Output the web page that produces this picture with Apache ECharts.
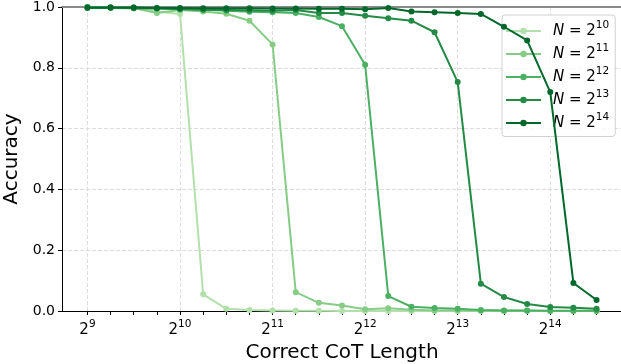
<!DOCTYPE html>
<html>
<head>
<meta charset="utf-8">
<script src="https://cdn.jsdelivr.net/npm/echarts@6/dist/echarts.min.js"></script>
<style>
  html, body { margin: 0; padding: 0; background: #fff; }
  #chart { width: 621px; height: 364px; }
</style>
</head>
<body>
<div id="chart"></div>
<script>
// log2 of the CoT length at each measured point
const lengthExps = [9, 9.25, 9.5, 9.75, 10, 10.25, 10.5, 10.75, 11, 11.25, 11.5, 11.75,
  12, 12.25, 12.5, 12.75, 13, 13.25, 13.5, 13.75, 14, 14.25, 14.5];
const majorExps = [9, 10, 11, 12, 13, 14];
const yTicks = [0, 0.2, 0.4, 0.6, 0.8, 1.0];
const nExps = [10, 11, 12, 13, 14];

const acc10 = [1.0, 0.998, 0.996, 0.985, 0.977, 0.055, 0.007, 0.003, 0.002, 0.001, 0.001, 0.0,
  0.0, 0.0, 0.0, 0.0, 0.0, 0.0, 0.0, 0.0, 0.0, 0.0, 0.0];
const acc11 = [1.0, 0.998, 0.997, 0.98, 0.99, 0.985, 0.978, 0.955, 0.877, 0.062, 0.027, 0.018,
  0.006, 0.009, 0.004, 0.002, 0.002, 0.001, 0.001, 0.001, 0.0, 0.0, 0.0];
const acc12 = [1.0, 0.999, 0.998, 0.996, 0.995, 0.992, 0.988, 0.984, 0.983, 0.98, 0.967, 0.937,
  0.81, 0.049, 0.014, 0.01, 0.007, 0.003, 0.002, 0.002, 0.001, 0.001, 0.001];
const acc13 = [0.997, 0.997, 0.996, 0.995, 0.993, 0.991, 0.99, 0.989, 0.988, 0.99, 0.98, 0.98,
  0.971, 0.963, 0.955, 0.917, 0.753, 0.09, 0.046, 0.023, 0.013, 0.011, 0.007];
const acc14 = [0.998, 0.998, 0.998, 0.997, 0.997, 0.996, 0.996, 0.996, 0.995, 0.995, 0.994, 0.994,
  0.993, 0.997, 0.985, 0.983, 0.98, 0.977, 0.935, 0.89, 0.72, 0.092, 0.036];

const accuracy = [acc10, acc11, acc12, acc13, acc14];
const colors = ['#b2e0ab', '#86cc85', '#4bb062', '#238b45', '#00682a'];

const font = 'DejaVu Sans';

const chart = echarts.init(document.getElementById('chart'), null, { renderer: 'canvas' });

const series = accuracy.map((vals, i) => ({
  name: 'N = 2^' + nExps[i],
  type: 'line',
  data: vals.map((v, k) => [lengthExps[k], v]),
  symbol: 'circle',
  symbolSize: 6,
  lineStyle: { width: 2, color: colors[i] },
  itemStyle: { color: colors[i] },
  z: 2 + i
}));

chart.setOption({
  animation: false,
  textStyle: { fontFamily: font },
  grid: { left: 62, top: 7, right: -1, bottom: 53, outerBoundsMode: 'none', containLabel: false },
  legend: {
    orient: 'vertical',
    left: 502,
    top: 15,
    padding: [5, 6, 6, 3],
    itemWidth: 35,
    itemHeight: 8,
    itemGap: 4.5,
    backgroundColor: 'rgba(255,255,255,0.8)',
    borderColor: '#d0d0d0',
    borderWidth: 1,
    borderRadius: 3,
    data: series.map(s => s.name),
    formatter: name => '{i|N} = 2{s|' + name.split('^')[1] + '}',
    textStyle: {
      fontFamily: font,
      fontSize: 15,
      color: '#000',
      padding: [0, 0, 0, 7],
      rich: {
        i: { fontFamily: font, fontSize: 15, fontStyle: 'italic', color: '#000' },
        s: { fontFamily: font, fontSize: 10.5, color: '#000', padding: [0, 0, 11, 0] }
      }
    }
  },
  xAxis: [
    {
      type: 'value',
      min: 8.725,
      max: 14.775,
      name: 'Correct CoT Length',
      nameLocation: 'middle',
      nameGap: 29,
      nameTextStyle: { fontFamily: font, fontSize: 20, color: '#000' },
      axisLine: { lineStyle: { color: '#000', width: 1 } },
      axisTick: { customValues: majorExps, length: 4, lineStyle: { color: '#000' } },
      axisLabel: {
        customValues: majorExps,
        margin: 8,
        formatter: v => '{b|2}{s|' + v + '}',
        rich: {
          b: { fontFamily: font, fontSize: 15, color: '#000' },
          s: { fontFamily: font, fontSize: 10.5, color: '#000', padding: [0, 0, 11, 0] }
        }
      },
      splitLine: { show: true, lineStyle: { color: '#dcdcdc', type: [4, 2], width: 1 } }
    },
    {
      type: 'value',
      min: 8.725,
      max: 14.775,
      position: 'bottom',
      axisLine: { show: false },
      axisTick: { customValues: lengthExps, length: 4, lineStyle: { color: '#000' } },
      axisLabel: { show: false },
      splitLine: { show: false }
    },
    {
      type: 'value',
      min: 8.725,
      max: 14.775,
      position: 'top',
      axisLine: { show: true, lineStyle: { color: '#8a8a8a', width: 2 } },
      axisTick: { show: false },
      axisLabel: { show: false },
      splitLine: { show: false }
    }
  ],
  yAxis: {
    type: 'value',
    min: yTicks[0],
    max: yTicks[yTicks.length - 1],
    interval: 0.2,
    name: 'Accuracy',
    nameLocation: 'middle',
    nameGap: 36,
    nameTextStyle: { fontFamily: font, fontSize: 20, color: '#000' },
    axisLine: { show: true, lineStyle: { color: '#000', width: 1 } },
    axisTick: { show: true, length: 4, lineStyle: { color: '#000' } },
    axisLabel: {
      fontFamily: font,
      fontSize: 14,
      color: '#000',
      margin: 7,
      formatter: v => v.toFixed(1)
    },
    splitLine: { show: true, lineStyle: { color: '#dcdcdc', type: [4, 2], width: 1 } }
  },
  series
});
</script>
</body>
</html>
